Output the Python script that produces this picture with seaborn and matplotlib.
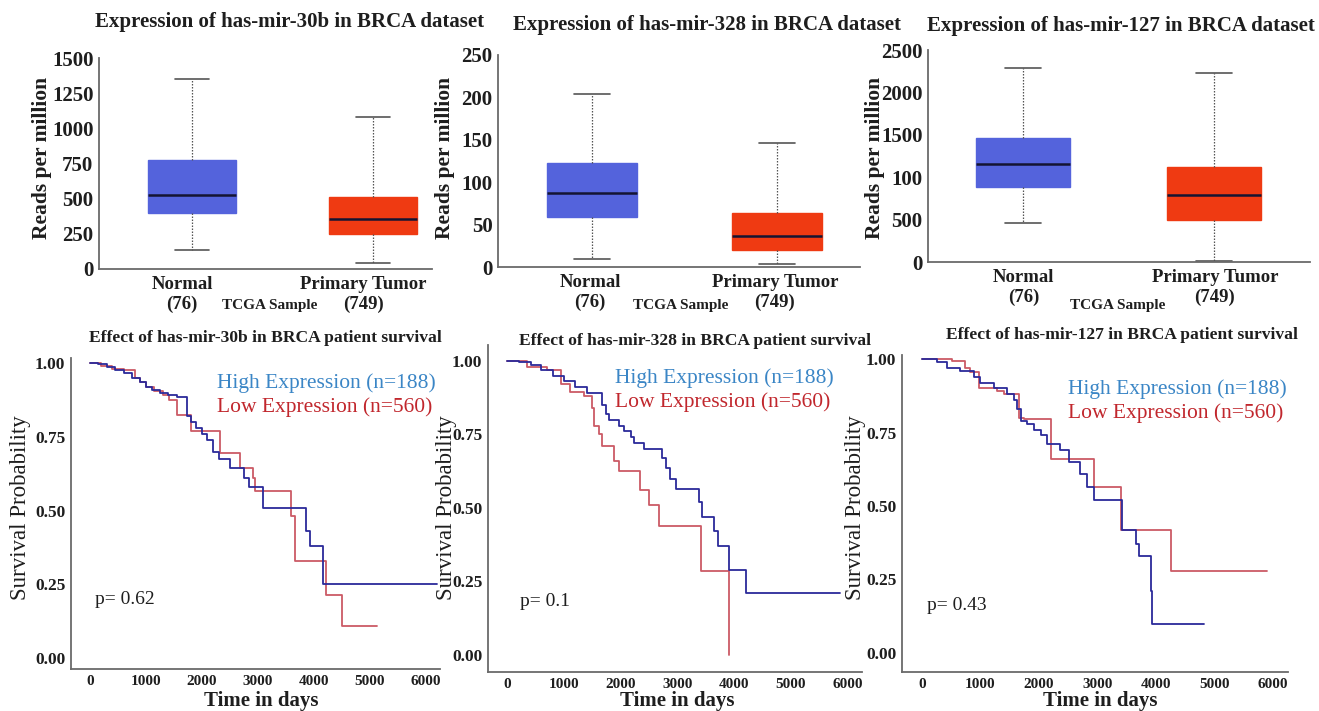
import numpy as np
import pandas as pd
import matplotlib
matplotlib.use("Agg")
import matplotlib.pyplot as plt
import matplotlib.transforms as mtransforms
import seaborn as sns

sns.set_style("white")
plt.rcParams['font.family'] = ['Liberation Serif', 'DejaVu Serif']

# ---------------- data ----------------
groups = ["Normal\n(76)", "Primary Tumor\n(749)"]
# five-number summaries [min, Q1, median, Q3, max] per group
mir30b_normal = [136, 395, 524, 777, 1351]
mir30b_tumor = [41, 249, 359, 514, 1081]
mir328_normal = [9, 59, 87.5, 123, 204.5]
mir328_tumor = [3.5, 20, 37, 64, 146]
mir127_normal = [463, 887, 1158, 1460, 2292]
mir127_tumor = [8, 498, 789, 1115, 2225]

box_titles = ["Expression of has-mir-30b in BRCA dataset",
              "Expression of has-mir-328 in BRCA dataset",
              "Expression of has-mir-127 in BRCA dataset"]
box_yticks = [[0, 250, 500, 750, 1000, 1250, 1500],
              [0, 50, 100, 150, 200, 250],
              [0, 500, 1000, 1500, 2000, 2500]]
box_yticklabels = [["0", "250", "500", "750", "1000", "1250", "1500"],
                   ["0", "50", "100", "150", "200", "250"],
                   ["0", "500", "100", "1500", "2000", "2500"]]

# Kaplan-Meier step curves (days, survival probability)
km30b_high_t = [0, 150, 300, 450, 600, 750, 900, 1000, 1100, 1250, 1400, 1550, 1740, 1800, 1900, 2000, 2100,
                2200, 2300, 2500, 2750, 2850, 3100, 3870, 3930, 4160, 6200]
km30b_high_s = [1.0, 0.995, 0.985, 0.975, 0.965, 0.95, 0.935, 0.92, 0.91, 0.90, 0.89, 0.885, 0.82, 0.80, 0.78,
                0.76, 0.74, 0.70, 0.675, 0.645, 0.61, 0.58, 0.51, 0.43, 0.38, 0.25, 0.25]
km30b_low_t = [0, 200, 400, 600, 800, 900, 1000, 1150, 1300, 1410, 1560, 1800, 2330, 2680, 2920, 2960, 3600,
               3660, 4220, 4510, 5130]
km30b_low_s = [1.0, 0.99, 0.98, 0.975, 0.95, 0.935, 0.92, 0.905, 0.89, 0.875, 0.825, 0.77, 0.695, 0.645, 0.61,
               0.565, 0.48, 0.33, 0.215, 0.11, 0.11]

km328_high_t = [0, 200, 410, 600, 800, 1000, 1200, 1410, 1680, 1740, 1800, 1970, 2060, 2180, 2235, 2410, 2735,
                2800, 2880, 2970, 3380, 3440, 3650, 3710, 3910, 4220, 5870]
km328_high_s = [1.0, 0.995, 0.985, 0.97, 0.95, 0.93, 0.91, 0.89, 0.85, 0.82, 0.80, 0.78, 0.76, 0.74, 0.72, 0.70,
                0.67, 0.635, 0.60, 0.565, 0.52, 0.47, 0.42, 0.37, 0.29, 0.21, 0.21]
km328_low_t = [0, 350, 700, 940, 1100, 1350, 1500, 1530, 1620, 1680, 1880, 1970, 2350, 2500, 2680, 3410, 3910]
km328_low_s = [1.0, 0.98, 0.97, 0.92, 0.895, 0.88, 0.84, 0.78, 0.75, 0.71, 0.66, 0.625, 0.56, 0.51, 0.44,
               0.285, 0.0]

km127_high_t = [0, 257, 430, 657, 885, 1000, 1230, 1460, 1570, 1630, 1690, 1800, 1915, 2030, 2140, 2370, 2510,
                2710, 2830, 2940, 3430, 3660, 3710, 3925, 3940, 4830]
km127_high_s = [1.0, 0.99, 0.97, 0.96, 0.94, 0.92, 0.90, 0.88, 0.86, 0.83, 0.79, 0.78, 0.76, 0.74, 0.71, 0.69,
                0.65, 0.61, 0.565, 0.52, 0.42, 0.37, 0.33, 0.21, 0.10, 0.10]
km127_low_t = [0, 515, 743, 830, 970, 1285, 1400, 1657, 1740, 2200, 2940, 3400, 4257, 5900]
km127_low_s = [1.0, 0.995, 0.97, 0.955, 0.90, 0.89, 0.88, 0.80, 0.795, 0.66, 0.565, 0.42, 0.28, 0.28]

km_titles = ["Effect of has-mir-30b in BRCA patient survival",
             "Effect of has-mir-328 in BRCA patient survival",
             "Effect of has-mir-127 in BRCA patient survival"]
p_values = ["p= 0.62", "p= 0.1", "p= 0.43"]
high_label = "High Expression (n=188)"
low_label = "Low Expression (n=560)"
km_xticks = [0, 1000, 2000, 3000, 4000, 5000, 6000]
km_yticks = [0.0, 0.25, 0.5, 0.75, 1.0]

# ---------------- styling ----------------
W, H = 1319, 711
fig = plt.figure(figsize=(W / 100, H / 100), dpi=100)

def ax_px(l, t, r, b):
    return fig.add_axes([l / W, 1 - b / H, (r - l) / W, (b - t) / H])

def fx(x):
    return x / W

def fy(y):
    return 1 - y / H

BLUE_BOX = "#5463dc"
RED_BOX = "#ef3a12"
BLUE_LINE = "#2b2a9a"
RED_LINE = "#cc5a66"
BLUE_TXT = "#3b86c6"
RED_TXT = "#c1272d"
SPINE = "#6a6a6a"
TXT = "#1e1e1e"

def style_spines(ax):
    sns.despine(ax=ax)
    for s in ["left", "bottom"]:
        ax.spines[s].set_color(SPINE)
        ax.spines[s].set_linewidth(1.3)

# ---------------- box plots ----------------
box_data = [(mir30b_normal, mir30b_tumor), (mir328_normal, mir328_tumor), (mir127_normal, mir127_tumor)]
box_axes = [(99, 58, 432, 269, (-0.514, 1.326), 1500, 290, 22, 270),
            (498, 55, 860, 267, (-0.508, 1.449), 250, 707, 25, 681),
            (928, 50, 1310, 262, (-0.497, 1.503), 2500, 1121, 26, 1118)]
ylabel_x = [42, 445, 875]
label_shift_px = [-10, -2, 1]

for i, ((nv, tv), (l, t, r, b, xl, ymax, tx, ty, sx)) in enumerate(zip(box_data, box_axes)):
    ax = ax_px(l, t, r, b)
    df = pd.DataFrame({"group": [groups[0]] * len(nv) + [groups[1]] * len(tv),
                       "value": list(nv) + list(tv)})
    sns.boxplot(data=df, x="group", y="value", hue="group", palette=[BLUE_BOX, RED_BOX],
                saturation=1, whis=(0, 100), width=0.49, fliersize=0, legend=False, ax=ax,
                linecolor="#555555", linewidth=1.0,
                whiskerprops=dict(linestyle=(0, (1.2, 1.2)), linewidth=0.9),
                capprops=dict(linewidth=1.2),
                medianprops=dict(color="#141432", linewidth=1.8))
    for p in ax.patches:
        p.set_edgecolor(p.get_facecolor())
    # narrow the whisker caps
    for ln in ax.lines:
        xd = np.asarray(ln.get_xdata(), dtype=float)
        yd = np.asarray(ln.get_ydata(), dtype=float)
        if len(xd) == 2 and yd[0] == yd[1] and (xd[1] - xd[0]) < 0.4:
            c = xd.mean()
            half = (xd[1] - xd[0]) / 2 * 0.78
            ln.set_xdata([c - half, c + half])
    ax.set_xlim(*xl)
    ax.set_ylim(0, ymax)
    ax.set_yticks(box_yticks[i])
    ax.set_yticklabels(box_yticklabels[i], fontsize=15, fontweight="bold", color=TXT)
    ax.tick_params(axis="x", length=0, pad=5, labelsize=13.5)
    ax.tick_params(axis="y", length=3, width=1, color=SPINE, direction="out", pad=1)
    shift = mtransforms.ScaledTranslation(label_shift_px[i] / 100, 0, fig.dpi_scale_trans)
    for lab in ax.get_xticklabels():
        lab.set_fontweight("bold")
        lab.set_color(TXT)
        lab.set_linespacing(1.2)
        lab.set_transform(lab.get_transform() + shift)
    ax.set_xlabel("")
    ax.set_ylabel("")
    style_spines(ax)
    fig.text(fx(tx), fy(ty), box_titles[i], ha="center", va="center", fontsize=15,
             fontweight="bold", color=TXT)
    fig.text(fx(sx), fy(305), "TCGA Sample", ha="center", va="center", fontsize=11,
             fontweight="bold", color=TXT)
    fig.text(fx(ylabel_x[i]), fy(158), "Reads per million", rotation=90, ha="center", va="center",
             fontsize=15.5, fontweight="bold", color=TXT)

# ---------------- KM curves ----------------
km_data = [((km30b_high_t, km30b_high_s), (km30b_low_t, km30b_low_s)),
           ((km328_high_t, km328_high_s), (km328_low_t, km328_low_s)),
           ((km127_high_t, km127_high_s), (km127_low_t, km127_low_s))]
km_axes = [(71, 358, 440, 669, (-0.037, 1.017), 265, 338, 217, 383, 95, 600, 21, 261),
           (488, 345, 862, 672, (-0.058, 1.054), 695, 341, 615, 378, 520, 602, 446, 677),
           (902, 355, 1288, 672, (-0.065, 1.014), 1122, 335, 1068, 389, 927, 605, 856, 1100)]

for i, (((ht, hs), (lt, ls)), (l, t, r, b, yl, tx, ty, lx, ly, px, py, ylx, xlx)) in enumerate(zip(km_data, km_axes)):
    ax = ax_px(l, t, r, b)
    sns.lineplot(x=lt, y=ls, drawstyle="steps-post", estimator=None, sort=False,
                 color=RED_LINE, linewidth=1.3, ax=ax)
    sns.lineplot(x=ht, y=hs, drawstyle="steps-post", estimator=None, sort=False,
                 color=BLUE_LINE, linewidth=1.3, ax=ax)
    ax.set_xlim(-340, 6260)
    ax.set_ylim(*yl)
    ax.set_xticks(km_xticks)
    ax.set_xticklabels([str(v) for v in km_xticks], fontsize=11, fontweight="bold", color=TXT)
    ax.set_yticks(km_yticks)
    ax.set_yticklabels(["%.2f" % v for v in km_yticks], fontsize=12.5, fontweight="bold", color=TXT)
    ax.tick_params(axis="x", length=3, width=1, color=SPINE, pad=1)
    ax.tick_params(axis="y", length=3, width=1, color=SPINE, pad=1)
    ax.set_xlabel("")
    ax.set_ylabel("")
    style_spines(ax)
    fig.text(fx(tx), fy(ty), km_titles[i], ha="center", va="center", fontsize=12.6,
             fontweight="bold", color=TXT)
    fig.text(fx(lx), fy(ly), high_label, ha="left", va="center", fontsize=15.5, color=BLUE_TXT)
    fig.text(fx(lx), fy(ly + 24), low_label, ha="left", va="center", fontsize=15.5, color=RED_TXT)
    fig.text(fx(px), fy(py), p_values[i], ha="left", va="center", fontsize=14, color=TXT)
    fig.text(fx(ylx), fy(508), "Survival Probability", rotation=90, ha="center", va="center",
             fontsize=16.5, color=TXT)
    fig.text(fx(xlx), fy(701), "Time in days", ha="center", va="center", fontsize=15,
             fontweight="bold", color=TXT)

fig.savefig("out.png", dpi=100, facecolor="white")
